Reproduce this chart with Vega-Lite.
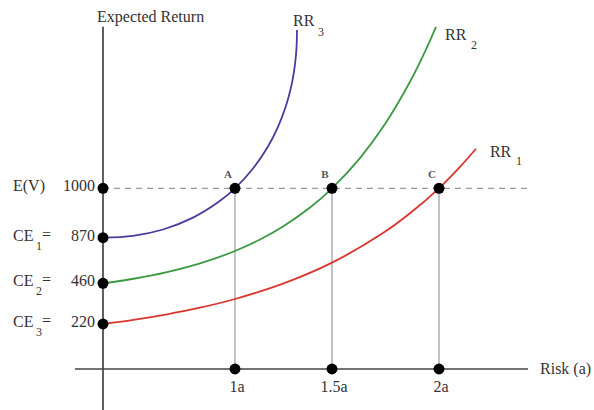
{
  "$schema": "https://vega.github.io/schema/vega-lite/v6.json",
  "width": 594,
  "height": 410,
  "padding": 0,
  "autosize": {"type": "none"},
  "background": "white",
  "config": {"view": {"stroke": null}, "text": {"font": "Liberation Serif", "color": "#333333"}},
  "datasets": {
    "axes": [
      {"x": 0, "x2": 0, "y": -200, "y2": 1425},
      {"x": -0.212, "x2": 2.416, "y": 0, "y2": 0}
    ],
    "dashed": [{"x": 0, "x2": 2.425, "y": 1000, "y2": 1000}],
    "verticals": [
      {"x": 1, "y": 0, "y2": 1000},
      {"x": 1.5, "y": 0, "y2": 1000},
      {"x": 2, "y": 0, "y2": 1000}
    ],
    "curves": [
      {"series": "RR3", "x": 0, "y": 870},
      {"series": "RR3", "x": 0.2273, "y": 874.8},
      {"series": "RR3", "x": 0.4545, "y": 891.6},
      {"series": "RR3", "x": 0.6818, "y": 922.9},
      {"series": "RR3", "x": 0.8712, "y": 963.2},
      {"series": "RR3", "x": 1, "y": 1000},
      {"series": "RR3", "x": 1.0928, "y": 1052.1},
      {"series": "RR3", "x": 1.1701, "y": 1110.0},
      {"series": "RR3", "x": 1.2216, "y": 1161.6},
      {"series": "RR3", "x": 1.2629, "y": 1217.2},
      {"series": "RR3", "x": 1.2887, "y": 1265.6},
      {"series": "RR3", "x": 1.3041, "y": 1306.9},
      {"series": "RR3", "x": 1.3144, "y": 1351.1},
      {"series": "RR3", "x": 1.318, "y": 1379.3},
      {"series": "RR3", "x": 1.3196, "y": 1416.7},
      {"series": "RR2", "x": 0, "y": 460},
      {"series": "RR2", "x": 0.2424, "y": 503.2},
      {"series": "RR2", "x": 0.4848, "y": 560.7},
      {"series": "RR2", "x": 0.7348, "y": 638.9},
      {"series": "RR2", "x": 1, "y": 750.4},
      {"series": "RR2", "x": 1.1289, "y": 853.4},
      {"series": "RR2", "x": 1.2474, "y": 899.5},
      {"series": "RR2", "x": 1.3866, "y": 949.3},
      {"series": "RR2", "x": 1.5, "y": 1000},
      {"series": "RR2", "x": 1.6308, "y": 1079.5},
      {"series": "RR2", "x": 1.7477, "y": 1169.0},
      {"series": "RR2", "x": 1.8645, "y": 1280.3},
      {"series": "RR2", "x": 1.9346, "y": 1359.8},
      {"series": "RR2", "x": 1.986, "y": 1424.8},
      {"series": "RR1", "x": 0, "y": 220},
      {"series": "RR1", "x": 0.2424, "y": 245.9},
      {"series": "RR1", "x": 0.4848, "y": 277.2},
      {"series": "RR1", "x": 0.7348, "y": 316.1},
      {"series": "RR1", "x": 1, "y": 367.4},
      {"series": "RR1", "x": 1.2474, "y": 457.8},
      {"series": "RR1", "x": 1.5, "y": 645.5},
      {"series": "RR1", "x": 1.7383, "y": 882.2},
      {"series": "RR1", "x": 1.8645, "y": 934.2},
      {"series": "RR1", "x": 2, "y": 1000},
      {"series": "RR1", "x": 2.0981, "y": 1056.3},
      {"series": "RR1", "x": 2.1729, "y": 1104.0}
    ],
    "dots": [
      {"x": 0, "y": 1000}, {"x": 0, "y": 870}, {"x": 0, "y": 460}, {"x": 0, "y": 220},
      {"x": 1, "y": 1000}, {"x": 1.5, "y": 1000}, {"x": 2, "y": 1000},
      {"x": 1, "y": 0}, {"x": 1.5, "y": 0}, {"x": 2, "y": 0}
    ],
    "leftNames": [
      {"x": 0, "y": 1000, "label": "E(V)"},
      {"x": 0, "y": 870, "label": "CE"},
      {"x": 0, "y": 460, "label": "CE"},
      {"x": 0, "y": 220, "label": "CE"}
    ],
    "leftEquals": [
      {"x": 0, "y": 870, "label": "="},
      {"x": 0, "y": 460, "label": "="},
      {"x": 0, "y": 220, "label": "="}
    ],
    "leftSubs": [
      {"x": 0, "y": 870, "label": "1"},
      {"x": 0, "y": 460, "label": "2"},
      {"x": 0, "y": 220, "label": "3"}
    ],
    "leftValues": [
      {"x": 0, "y": 1000, "label": "1000"},
      {"x": 0, "y": 870, "label": "870"},
      {"x": 0, "y": 460, "label": "460"},
      {"x": 0, "y": 220, "label": "220"}
    ],
    "xLabels": [
      {"x": 1, "y": 0, "label": "1a"},
      {"x": 1.5, "y": 0, "label": "1.5a"},
      {"x": 2, "y": 0, "label": "2a"}
    ],
    "pointLabels": [
      {"x": 1, "y": 1000, "label": "A"},
      {"x": 1.5, "y": 1000, "label": "B"},
      {"x": 2, "y": 1000, "label": "C"}
    ],
    "mainTexts": [
      {"x": -0.045, "y": 1450.9, "label": "Expected Return"},
      {"x": 2.472, "y": 0, "label": "Risk (a)"},
      {"x": 1.299, "y": 1440.3, "label": "RR"},
      {"x": 2.028, "y": 1403.5, "label": "RR"},
      {"x": 2.238, "y": 1095.6, "label": "RR"}
    ],
    "curveSubs": [
      {"x": 1.428, "y": 1411.4, "label": "3"},
      {"x": 2.15, "y": 1377.2, "label": "2"},
      {"x": 2.36, "y": 1071.9, "label": "1"}
    ]
  },
  "encoding": {
    "x": {"field": "x", "type": "quantitative", "axis": null,
      "scale": {"type": "linear", "domain": [0, 1, 1.5, 2], "range": [103, 235, 332, 439], "nice": false, "zero": false}},
    "y": {"field": "y", "type": "quantitative", "axis": null,
      "scale": {"type": "linear", "domain": [0, 220, 460, 870, 1000], "range": [369, 324, 283.3, 237.7, 188.3], "nice": false, "zero": false}}
  },
  "layer": [
    {"data": {"name": "axes"}, "mark": {"type": "rule", "color": "#444444", "strokeWidth": 1.7},
      "encoding": {"x2": {"field": "x2"}, "y2": {"field": "y2"}}},
    {"data": {"name": "dashed"}, "mark": {"type": "rule", "color": "#999999", "strokeWidth": 1.3, "strokeDash": [6, 5]},
      "encoding": {"x2": {"field": "x2"}, "y2": {"field": "y2"}}},
    {"data": {"name": "verticals"}, "mark": {"type": "rule", "color": "#999999", "strokeWidth": 1.2},
      "encoding": {"y2": {"field": "y2"}}},
    {"data": {"name": "curves"}, "mark": {"type": "line", "interpolate": "catmull-rom", "strokeWidth": 1.8},
      "encoding": {"color": {"field": "series", "type": "nominal", "legend": null,
        "scale": {"domain": ["RR1", "RR2", "RR3"], "range": ["#d9362d", "#3a9a42", "#4b3b9c"]}}}},
    {"data": {"name": "dots"}, "mark": {"type": "circle", "color": "#000000", "opacity": 1, "size": 120}},
    {"data": {"name": "leftNames"}, "mark": {"type": "text", "align": "left", "baseline": "middle", "fontSize": 16, "dx": -90, "dy": -2},
      "encoding": {"text": {"field": "label"}}},
    {"data": {"name": "leftEquals"}, "mark": {"type": "text", "align": "left", "baseline": "middle", "fontSize": 16, "dx": -61, "dy": -3},
      "encoding": {"text": {"field": "label"}}},
    {"data": {"name": "leftSubs"}, "mark": {"type": "text", "align": "left", "baseline": "middle", "fontSize": 12, "dx": -67, "dy": 8},
      "encoding": {"text": {"field": "label"}}},
    {"data": {"name": "leftValues"}, "mark": {"type": "text", "align": "right", "baseline": "middle", "fontSize": 16, "dx": -8, "dy": -2},
      "encoding": {"text": {"field": "label"}}},
    {"data": {"name": "xLabels"}, "mark": {"type": "text", "align": "center", "baseline": "middle", "fontSize": 16, "dx": 2, "dy": 18},
      "encoding": {"text": {"field": "label"}}},
    {"data": {"name": "pointLabels"}, "mark": {"type": "text", "align": "center", "baseline": "middle", "fontSize": 11, "fontWeight": "bold", "color": "#555555", "dx": -7, "dy": -13},
      "encoding": {"text": {"field": "label"}}},
    {"data": {"name": "mainTexts"}, "mark": {"type": "text", "align": "left", "baseline": "middle", "fontSize": 16},
      "encoding": {"text": {"field": "label"}}},
    {"data": {"name": "curveSubs"}, "mark": {"type": "text", "align": "left", "baseline": "middle", "fontSize": 12},
      "encoding": {"text": {"field": "label"}}}
  ]
}
